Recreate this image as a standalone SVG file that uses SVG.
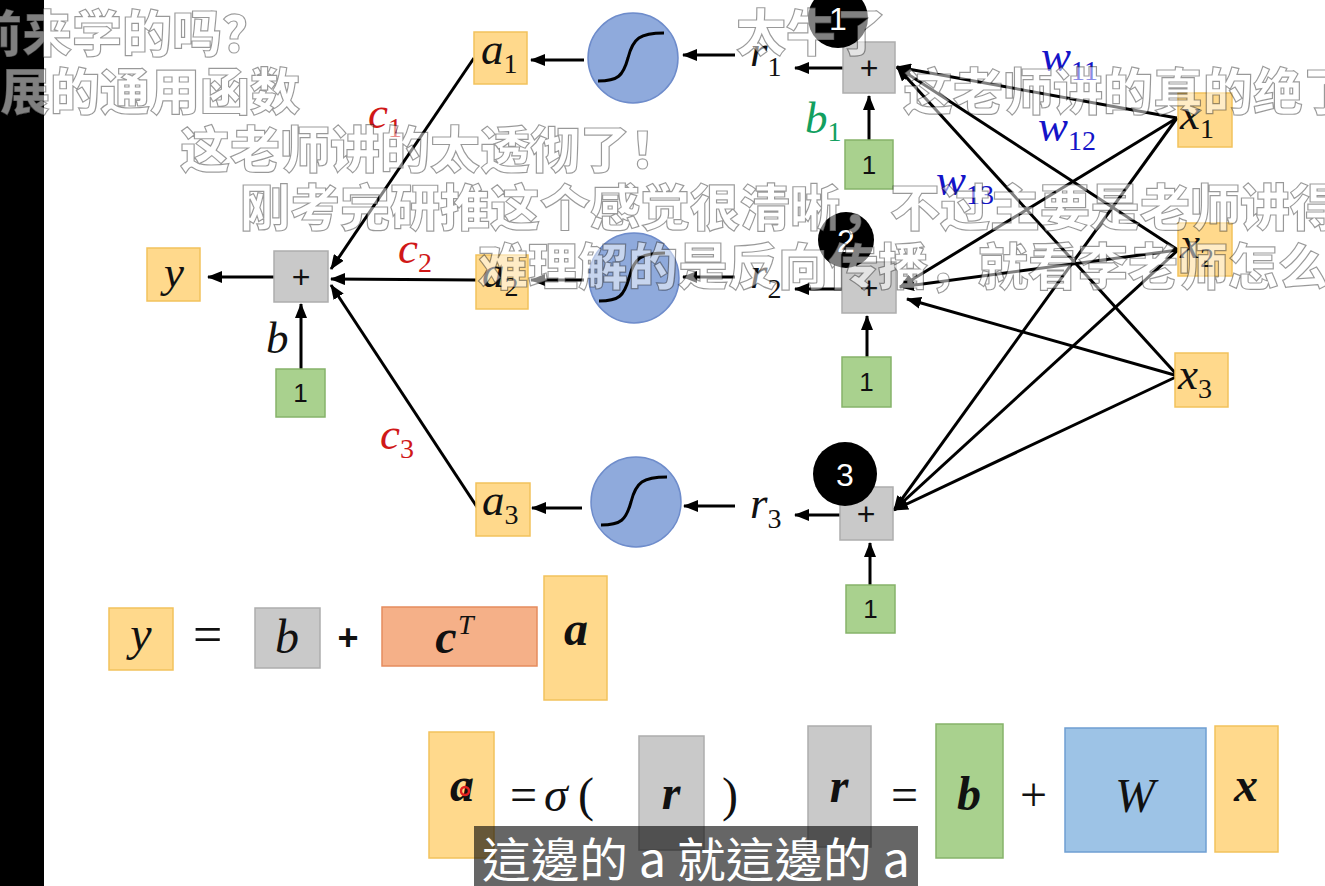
<svg xmlns="http://www.w3.org/2000/svg" width="1325" height="886" viewBox="0 0 1325 886">
<defs>
<marker id="ah" markerUnits="userSpaceOnUse" markerWidth="15" markerHeight="12" refX="14" refY="6" orient="auto">
<path d="M0,0 L15,6 L0,12 z" fill="#000"/>
</marker>
<style>
.yel{fill:#FFD98C;stroke:#F2C25C;stroke-width:1.5}
.gry{fill:#C9C9C9;stroke:#ADADAD;stroke-width:1.5}
.grn{fill:#A9D18E;stroke:#86B36A;stroke-width:1.5}
.org{fill:#F5B088;stroke:#E58C5E;stroke-width:1.5}
.blu{fill:#9DC3E6;stroke:#6F9FD2;stroke-width:1.5}
.sig{fill:#8FAADC;stroke:#6E8CCB;stroke-width:1.5}
.curve{fill:none;stroke:#000;stroke-width:3}
.bc{fill:#000}
.bn{fill:#fff;font-family:"Liberation Sans",sans-serif;font-size:32px;text-anchor:middle}
.m{font-family:"Liberation Serif",serif;font-style:italic;font-size:45px;fill:#111}
.sub{font-style:normal;font-size:28px}
.plus{font-family:"Liberation Sans",sans-serif;font-size:32px;text-anchor:middle;fill:#111}
.one{font-family:"Liberation Sans",sans-serif;font-size:26px;text-anchor:middle;fill:#111}
.eqb{font-family:"Liberation Serif",serif;font-style:italic;font-weight:bold;font-size:48px;fill:#111;text-anchor:middle}
.eqn{font-family:"Liberation Serif",serif;font-size:48px;fill:#111}
.conn line{stroke:#000;stroke-width:3;marker-end:url(#ah)}
.dm text{font-family:"Noto Sans CJK SC",sans-serif;font-weight:900;font-size:50px;fill:#fff;fill-opacity:0.5;stroke:#000;stroke-opacity:0.4;stroke-width:1.2}
</style>
</defs>
<rect x="0" y="0" width="1325" height="886" fill="#fff"/>
<rect x="0" y="0" width="44" height="886" fill="#000"/>

<g id="connectors" class="conn">
<line x1="274" y1="277" x2="208" y2="277"/>
<line x1="301" y1="369" x2="301" y2="304"/>
<line x1="474" y1="58" x2="331" y2="269"/>
<line x1="476" y1="280" x2="331" y2="279"/>
<line x1="479" y1="510" x2="331" y2="285"/>
<line x1="584" y1="60" x2="531" y2="60"/>
<line x1="735" y1="55" x2="683" y2="55"/>
<line x1="843" y1="68" x2="795" y2="68"/>
<line x1="869" y1="140" x2="869" y2="96"/>
<line x1="584" y1="280" x2="531" y2="280"/>
<line x1="735" y1="277" x2="683" y2="277"/>
<line x1="842" y1="289" x2="795" y2="289"/>
<line x1="867" y1="357" x2="867" y2="316"/>
<line x1="582" y1="508" x2="532" y2="508"/>
<line x1="735" y1="506" x2="684" y2="506"/>
<line x1="840" y1="515" x2="795" y2="515"/>
<line x1="870" y1="585" x2="870" y2="543"/>
<line x1="1177" y1="118" x2="897" y2="67"/>
<line x1="1178" y1="250" x2="897" y2="67"/>
<line x1="1178" y1="376" x2="897" y2="67"/>
<line x1="1177" y1="118" x2="900" y2="287"/>
<line x1="1178" y1="250" x2="900" y2="287"/>
<line x1="1178" y1="376" x2="907" y2="299"/>
<line x1="1177" y1="118" x2="894" y2="510"/>
<line x1="1178" y1="250" x2="894" y2="510"/>
<line x1="1178" y1="376" x2="894" y2="510"/>
</g>

<g id="y_out"><rect class="yel" x="147" y="248" width="53" height="53"/><text class="m" x="174" y="287" text-anchor="middle">y</text></g>
<g id="sum_out"><rect class="gry" x="274" y="251" width="54" height="51"/><text class="plus" x="301" y="288">+</text></g>
<g id="one_out"><rect class="grn" x="276" y="369" width="49" height="48"/><text class="one" x="300.5" y="402">1</text></g>
<g id="lbl_b"><text class="m" x="266" y="353">b</text></g>
<g id="lbl_c"><text class="m" x="368" y="128" style="fill:#D01818">c<tspan class="sub" dy="9">1</tspan></text>
<text class="m" x="398" y="263" style="fill:#D01818">c<tspan class="sub" dy="9">2</tspan></text>
<text class="m" x="380" y="449" style="fill:#D01818">c<tspan class="sub" dy="9">3</tspan></text></g>

<g id="a1"><rect class="yel" x="474" y="32" width="53" height="52"/><text class="m" x="481" y="64">a<tspan class="sub" dy="9">1</tspan></text></g>
<g id="a2"><rect class="yel" x="476" y="255" width="52" height="54"/><text class="m" x="482" y="287">a<tspan class="sub" dy="9">2</tspan></text></g>
<g id="a3"><rect class="yel" x="476" y="483" width="54" height="53"/><text class="m" x="482" y="515">a<tspan class="sub" dy="9">3</tspan></text></g>

<g id="sig1"><circle class="sig" cx="633" cy="58" r="45"/><path class="curve" d="M598,81 C618,81 623,76 628,58 C633,38 640,33 664,33"/></g>
<g id="sig2"><circle class="sig" cx="634" cy="278" r="45"/><path class="curve" d="M599,301 C619,301 624,296 629,278 C634,258 641,253 665,253"/></g>
<g id="sig3"><circle class="sig" cx="636" cy="502" r="45"/><path class="curve" d="M601,525 C621,525 626,520 631,502 C636,482 643,477 667,477"/></g>

<g id="r_labels"><text class="m" x="750" y="66">r<tspan class="sub" dy="10">1</tspan></text>
<text class="m" x="750" y="288">r<tspan class="sub" dy="10">2</tspan></text>
<text class="m" x="750" y="518">r<tspan class="sub" dy="10">3</tspan></text></g>

<g id="sum1"><rect class="gry" x="843" y="42" width="52" height="51"/><text class="plus" x="869" y="79">+</text><circle class="bc" cx="838" cy="18" r="30"/><text class="bn" x="838" y="30">1</text></g>
<g id="bias1"><rect class="grn" x="845" y="140" width="48" height="49"/><text class="one" x="869" y="174">1</text><text class="m" x="805" y="133" style="fill:#12A060">b<tspan class="sub" dy="8">1</tspan></text></g>
<g id="sum2"><rect class="gry" x="842" y="262" width="54" height="51"/><text class="plus" x="869" y="299">+</text><circle class="bc" cx="846" cy="240" r="28"/><text class="bn" x="846" y="252">2</text></g>
<g id="bias2"><rect class="grn" x="842" y="357" width="49" height="50"/><text class="one" x="866.5" y="391">1</text></g>
<g id="sum3"><rect class="gry" x="840" y="487" width="53" height="53"/><text class="plus" x="866" y="525">+</text><circle class="bc" cx="845" cy="474" r="32"/><text class="bn" x="845" y="486">3</text></g>
<g id="bias3"><rect class="grn" x="846" y="585" width="49" height="48"/><text class="one" x="870.5" y="618">1</text></g>

<g id="x1"><rect class="yel" x="1178" y="93" width="54" height="54"/><text class="m" x="1180" y="129">x<tspan class="sub" dy="9">1</tspan></text></g>
<g id="x2"><rect class="yel" x="1178" y="223" width="54" height="53"/><text class="m" x="1180" y="258">x<tspan class="sub" dy="9">2</tspan></text></g>
<g id="x3"><rect class="yel" x="1175" y="353" width="53" height="54"/><text class="m" x="1178" y="389">x<tspan class="sub" dy="9">3</tspan></text></g>

<g id="w_labels"><text class="m" x="1041" y="71" style="fill:#1414C8">w<tspan class="sub" dy="9">11</tspan></text>
<text class="m" x="1038" y="141" style="fill:#1414C8">w<tspan class="sub" dy="9">12</tspan></text>
<text class="m" x="936" y="195" style="fill:#1414C8">w<tspan class="sub" dy="9">13</tspan></text></g>

<g id="eq1">
<rect class="yel" x="109" y="608" width="64" height="62"/><text class="m" x="141" y="650" text-anchor="middle" style="font-size:48px">y</text>
<text class="eqn" x="193" y="652" style="font-size:52px">=</text>
<rect class="gry" x="255" y="608" width="65" height="60"/><text class="m" x="287" y="653" text-anchor="middle" style="font-size:48px">b</text>
<text x="348" y="650" font-family="Liberation Sans,sans-serif" font-weight="bold" font-size="36" text-anchor="middle" fill="#111">+</text>
<rect class="org" x="382" y="607" width="155" height="59"/><text class="eqb" x="446" y="653">c</text><text class="m" x="458" y="634" style="font-size:28px">T</text>
<rect class="yel" x="544" y="576" width="63" height="124"/><text class="eqb" x="576" y="645">a</text>
</g>

<g id="eq2">
<rect class="yel" x="429" y="732" width="65" height="126"/><text class="eqb" x="462" y="801">a</text><circle cx="465" cy="791" r="4" fill="none" stroke="#E02020" stroke-width="2.5"/>
<text class="eqn" x="510" y="811">=</text><text class="eqn" x="544" y="811" style="font-style:italic">σ</text><text class="eqn" x="578" y="811">(</text>
<rect class="gry" x="639" y="736" width="65" height="114"/><text class="eqb" x="671" y="809">r</text>
<text class="eqn" x="722" y="811">)</text>
<rect class="gry" x="808" y="726" width="63" height="121"/><text class="eqb" x="839" y="802">r</text>
<text class="eqn" x="891" y="811">=</text>
<rect class="grn" x="936" y="724" width="67" height="134"/><text class="eqb" x="969" y="810">b</text>
<text class="eqn" x="1020" y="811">+</text>
<rect class="blu" x="1065" y="728" width="141" height="124"/><text class="m" x="1135" y="812" text-anchor="middle" style="font-size:48px">W</text>
<rect class="yel" x="1215" y="726" width="63" height="126"/><text class="eqb" x="1246" y="801">x</text>
</g>

<g id="danmaku" class="dm">
<text x="-28" y="52">前来学的吗？</text>
<text x="-50" y="110">扩展的通用函数</text>
<text x="180" y="168">这老师讲的太透彻了！</text>
<text x="240" y="226">刚考完研推这个感觉很清晰，不过主要是老师讲得</text>
<text x="478" y="285">难理解的是反向传播，就看李老师怎么</text>
<text x="736" y="51">太牛了</text>
<text x="903" y="110">这老师讲的真的绝了</text>
</g>

<g id="subtitle">
<rect x="474" y="826" width="444" height="60" fill="#000" fill-opacity="0.6"/>
<text x="482" y="877" font-family="Noto Sans CJK TC,sans-serif" font-size="47" fill="#fff" textLength="428" lengthAdjust="spacingAndGlyphs">這邊的 a 就這邊的 a</text>
</g>
</svg>
